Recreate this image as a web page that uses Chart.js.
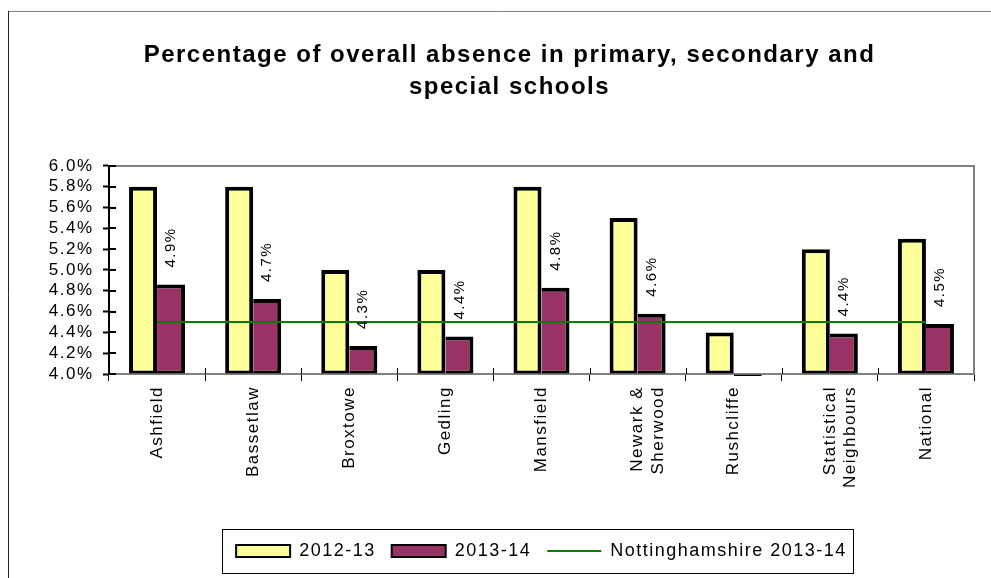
<!DOCTYPE html>
<html>
<head>
<meta charset="utf-8">
<script src="https://cdn.jsdelivr.net/npm/chart.js@4.4.1/dist/chart.umd.min.js"></script>
<style>
  html, body { margin: 0; padding: 0; background: #fff; }
  #wrap { width: 991px; height: 578px; position: relative; }
  canvas { display: block; }
</style>
</head>
<body>
<div id="wrap"><canvas id="chart" width="991" height="578" style="width:991px;height:578px"></canvas></div>
<script>
// Districts and comparators along the x axis
const categories = [
  'Ashfield', 'Bassetlaw', 'Broxtowe', 'Gedling', 'Mansfield',
  ['Newark &', 'Sherwood'], 'Rushcliffe', ['Statistical', 'Neighbours'], 'National'
];
// Overall absence, percent of sessions
const absence2012_13 = [5.8, 5.8, 5.0, 5.0, 5.8, 5.5, 4.4, 5.2, 5.3];
const absence2013_14 = [4.86, 4.72, 4.27, 4.36, 4.83, 4.58, 3.9, 4.39, 4.48];
// County-wide reference level for 2013-14
const nottinghamshire2013_14 = [4.5, 4.5, 4.5, 4.5, 4.5, 4.5, 4.5, 4.5, 4.5];
// Value axis range and tick step (percent)
const yMin = 4.0;
const yMax = 6.0;
const yStep = 0.2;

const FONT = "'Liberation Sans', Arial, Helvetica, sans-serif";
Chart.defaults.font.family = FONT;
Chart.defaults.color = '#000';

// Slightly open letter spacing for all canvas text
const letterSpacingPlugin = {
  id: 'letterSpacing',
  beforeLayout(chart) { chart.ctx.letterSpacing = '1.5px'; },
  beforeDraw(chart) { chart.ctx.letterSpacing = '1.5px'; }
};

// Outer frame lines and the grey plot-area border
const framePlugin = {
  id: 'frame',
  beforeDraw(chart) {
    const ctx = chart.ctx;
    const a = chart.chartArea;
    ctx.save();
    ctx.lineWidth = 1;
    ctx.strokeStyle = '#808080';
    ctx.beginPath();
    ctx.moveTo(8, 11.5);
    ctx.lineTo(chart.width, 11.5);
    ctx.stroke();
    ctx.strokeStyle = '#222';
    ctx.beginPath();
    ctx.moveTo(8.5, 11);
    ctx.lineTo(8.5, chart.height);
    ctx.stroke();
    ctx.lineWidth = 2;
    ctx.strokeStyle = '#808080';
    ctx.strokeRect(a.left, a.top, a.right - a.left, a.bottom - a.top);
    ctx.restore();
  }
};

// Tick marks that cross into the plot area
const innerTicksPlugin = {
  id: 'innerTicks',
  afterDraw(chart) {
    const ctx = chart.ctx;
    const a = chart.chartArea;
    const ys = chart.scales.y;
    const xs = chart.scales.x;
    ctx.save();
    ctx.strokeStyle = '#000';
    ctx.lineWidth = 2;
    ys.ticks.forEach((t) => {
      const p = Math.round(ys.getPixelForValue(t.value));
      ctx.beginPath();
      ctx.moveTo(a.left, p);
      ctx.lineTo(a.left + 7, p);
      ctx.stroke();
    });
    ctx.lineWidth = 1;
    for (let i = 1; i < categories.length; i++) {
      const p = Math.round((xs.getPixelForValue(i - 1) + xs.getPixelForValue(i)) / 2) + 0.5;
      ctx.beginPath();
      ctx.moveTo(p, a.bottom);
      ctx.lineTo(p, a.bottom - 6);
      ctx.stroke();
    }
    ctx.restore();
  }
};

// Rotated value labels above the 2013-14 bars
const valueLabelsPlugin = {
  id: 'valueLabels',
  afterDatasetsDraw(chart) {
    const ctx = chart.ctx;
    const meta = chart.getDatasetMeta(1);
    ctx.save();
    ctx.letterSpacing = '1.5px';
    ctx.font = '15px ' + FONT;
    ctx.fillStyle = '#000';
    ctx.textAlign = 'left';
    ctx.textBaseline = 'middle';
    meta.data.forEach((bar, i) => {
      const v = absence2013_14[i];
      if (v == null || v < yMin) return;
      ctx.save();
      ctx.translate(bar.x, bar.y - 17);
      ctx.rotate(-Math.PI / 2);
      ctx.fillText(v.toFixed(1) + '%', 0, 0);
      ctx.restore();
    });
    ctx.restore();
  }
};

// Box drawn around the legend row
const legendBoxPlugin = {
  id: 'legendBox',
  afterDraw(chart) {
    const lg = chart.legend;
    if (!lg || !lg.legendHitBoxes || !lg.legendHitBoxes.length) return;
    const hb = lg.legendHitBoxes;
    const first = hb[0];
    const last = hb[hb.length - 1];
    const cy = first.top + first.height / 2;
    const ctx = chart.ctx;
    ctx.save();
    ctx.strokeStyle = '#000';
    ctx.lineWidth = 1;
    const left = Math.round(first.left - 14) + 0.5;
    const right = Math.round(last.left + last.width + 6) + 0.5;
    ctx.strokeRect(left, Math.round(cy - 22) + 0.5, right - left, 44);
    ctx.restore();
  }
};

new Chart(document.getElementById('chart'), {
  data: {
    labels: categories,
    datasets: [
      {
        type: 'bar',
        label: '2012-13',
        data: absence2012_13,
        base: yMin,
        backgroundColor: '#FFFF99',
        borderColor: '#000',
        borderWidth: { top: 4, left: 4, right: 4, bottom: 3 },
        borderSkipped: false,
        barPercentage: 1.0,
        categoryPercentage: 0.583,
        order: 2,
        clip: { left: 5, top: 5, right: 5, bottom: 2 }
      },
      {
        type: 'bar',
        label: '2013-14',
        data: absence2013_14,
        base: yMin,
        backgroundColor: '#993366',
        borderColor: '#000',
        borderWidth: { top: 4, left: 0, right: 4, bottom: 3 },
        borderSkipped: false,
        barPercentage: 1.0,
        categoryPercentage: 0.583,
        order: 2,
        clip: { left: 5, top: 5, right: 5, bottom: 2 }
      },
      {
        type: 'line',
        label: 'Nottinghamshire 2013-14',
        data: nottinghamshire2013_14,
        borderColor: '#008000',
        backgroundColor: '#008000',
        borderWidth: 2,
        pointRadius: 0,
        pointHoverRadius: 0,
        fill: false,
        order: 0
      }
    ]
  },
  options: {
    responsive: false,
    maintainAspectRatio: false,
    animation: false,
    devicePixelRatio: 1,
    events: [],
    layout: { padding: { left: 45, right: 17, top: 0, bottom: 8 } },
    plugins: {
      tooltip: { enabled: false },
      title: {
        display: true,
        text: ['Percentage of overall absence in primary, secondary and', 'special schools'],
        color: '#000',
        font: { family: FONT, size: 24, weight: 'bold', lineHeight: 1.333 },
        padding: { top: 39, bottom: 63 }
      },
      legend: {
        display: true,
        position: 'bottom',
        fullSize: false,
        labels: {
          usePointStyle: true,
          pointStyleWidth: 54,
          boxHeight: 12,
          padding: 16,
          color: '#000',
          font: { family: FONT, size: 18 },
          generateLabels(chart) {
            return chart.data.datasets.map((ds, i) => ({
              text: ds.label,
              fillStyle: ds.type === 'line' ? ds.borderColor : ds.backgroundColor,
              strokeStyle: ds.type === 'line' ? ds.borderColor : '#000',
              lineWidth: 2,
              pointStyle: ds.type === 'line' ? 'line' : 'rect',
              hidden: false,
              datasetIndex: i,
              fontColor: '#000'
            }));
          }
        }
      }
    },
    scales: {
      x: {
        type: 'category',
        offset: true,
        grid: {
          offset: true,
          drawOnChartArea: false,
          drawTicks: true,
          tickLength: 7,
          tickWidth: 1,
          tickColor: '#000'
        },
        border: { display: true, color: '#808080', width: 2 },
        ticks: {
          autoSkip: false,
          minRotation: 90,
          maxRotation: 90,
          padding: 5,
          color: '#000',
          font: { family: FONT, size: 17 }
        },
        afterFit(scale) { scale.height = 152; }
      },
      y: {
        type: 'linear',
        min: yMin,
        max: yMax,
        grid: {
          drawOnChartArea: false,
          drawTicks: true,
          tickLength: 6,
          tickWidth: 2,
          tickColor: '#000'
        },
        border: { display: true, color: '#000', width: 2 },
        ticks: {
          stepSize: yStep,
          autoSkip: false,
          padding: 9.5,
          color: '#000',
          font: { family: FONT, size: 17 },
          callback: (v) => Number(v).toFixed(1) + '%'
        },
        afterFit(scale) { scale.width = 64; }
      }
    }
  },
  plugins: [letterSpacingPlugin, framePlugin, innerTicksPlugin, valueLabelsPlugin, legendBoxPlugin]
});
</script>
</body>
</html>
